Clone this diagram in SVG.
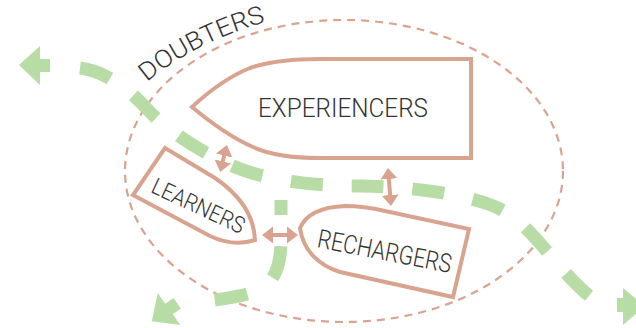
<svg xmlns="http://www.w3.org/2000/svg" width="636" height="328" viewBox="0 0 636 328">
<style>
.node{fill:#fff;stroke:#d9a48f;stroke-width:4;stroke-linejoin:miter}
.lbl{font-family:Roboto,"Liberation Sans",sans-serif;font-weight:300;fill:#333;font-size:26px}
.flow{fill:none;stroke:#b8dca6;stroke-width:13}
.head{fill:#b8dca6}
.dbl{stroke:#d9a48f;stroke-width:4;fill:none;marker-start:url(#ah);marker-end:url(#ah)}
</style>
<defs>
<marker id="ah" markerUnits="userSpaceOnUse" markerWidth="12" markerHeight="18" viewBox="0 0 12 18" refX="2" refY="9" orient="auto-start-reverse">
<path d="M0,0.5 L11,9 L0,17.5 Z" fill="#d9a48f"/>
</marker>
<path id="arcD" d="M147,82 C170,62 215,35 270,21"/>
</defs>
<g id="doubters">
<ellipse cx="344" cy="171" rx="219" ry="151" fill="none" stroke="#d9a48f" stroke-width="2.2" stroke-dasharray="8 6"/>
<text class="lbl" style="font-size:25px"><textPath href="#arcD" textLength="134" lengthAdjust="spacingAndGlyphs">DOUBTERS</textPath></text>
</g>
<g id="experiencers">
<path class="node" d="M192,107 C205,95 225,78 250,68 C270,61 295,59 320,59 L471,59 L471,158 L320,158 C295,158 270,155 253,147 C230,137 210,122 192,107 Z"/>
<text class="lbl" x="343" y="117" text-anchor="middle" textLength="170" lengthAdjust="spacingAndGlyphs">EXPERIENCERS</text>
</g>
<g id="learners">
<path class="node" d="M165,148 L215,178 C240,195 254,215 255,240 C240,245 225,243 210,236 L133,195 Z"/>
<text class="lbl" style="font-size:23px" transform="translate(195,213) rotate(25)" text-anchor="middle" textLength="100" lengthAdjust="spacingAndGlyphs">LEARNERS</text>
</g>
<g id="rechargers">
<path class="node" d="M300,228 C306,214 322,207 345,206 C360,206 372,208 385,211 L469,229 L453,297 L340,272 C318,265 303,250 300,228 Z"/>
<text class="lbl" transform="translate(383,260) rotate(11)" text-anchor="middle" textLength="136" lengthAdjust="spacingAndGlyphs">RECHARGERS</text>
</g>
<g id="connectors">
<path class="flow" stroke-dasharray="32 29" d="M80,68 C105,71 128,88 148,110 S215,162 252,173 S330,186 360,186 S450,190 491,205 S555,270 592,298"/>
<polygon class="head" points="19,65 40,46 40,59 50,59 50,72 40,72 40,85"/>
<polygon class="head" points="617,298 623,298 623,288 645,306 623,325 623,312 617,312"/>
<path class="flow" stroke-dasharray="33 31" stroke-dashoffset="18" d="M281,200 L281,240 C281,262 276,280 262,288 C250,295 235,297 215,300 L190,303"/>
<polygon class="head" points="151.8,321.2 157.7,293 165.2,303.7 173.4,297.9 181,308.5 172.8,314.3 180.3,325"/>
<line class="dbl" x1="224.7" y1="153.7" x2="222.3" y2="163.3"/>
<line class="dbl" x1="388.7" y1="177" x2="390.3" y2="197"/>
<line class="dbl" x1="271" y1="235" x2="289" y2="235"/>
</g>
</svg>
